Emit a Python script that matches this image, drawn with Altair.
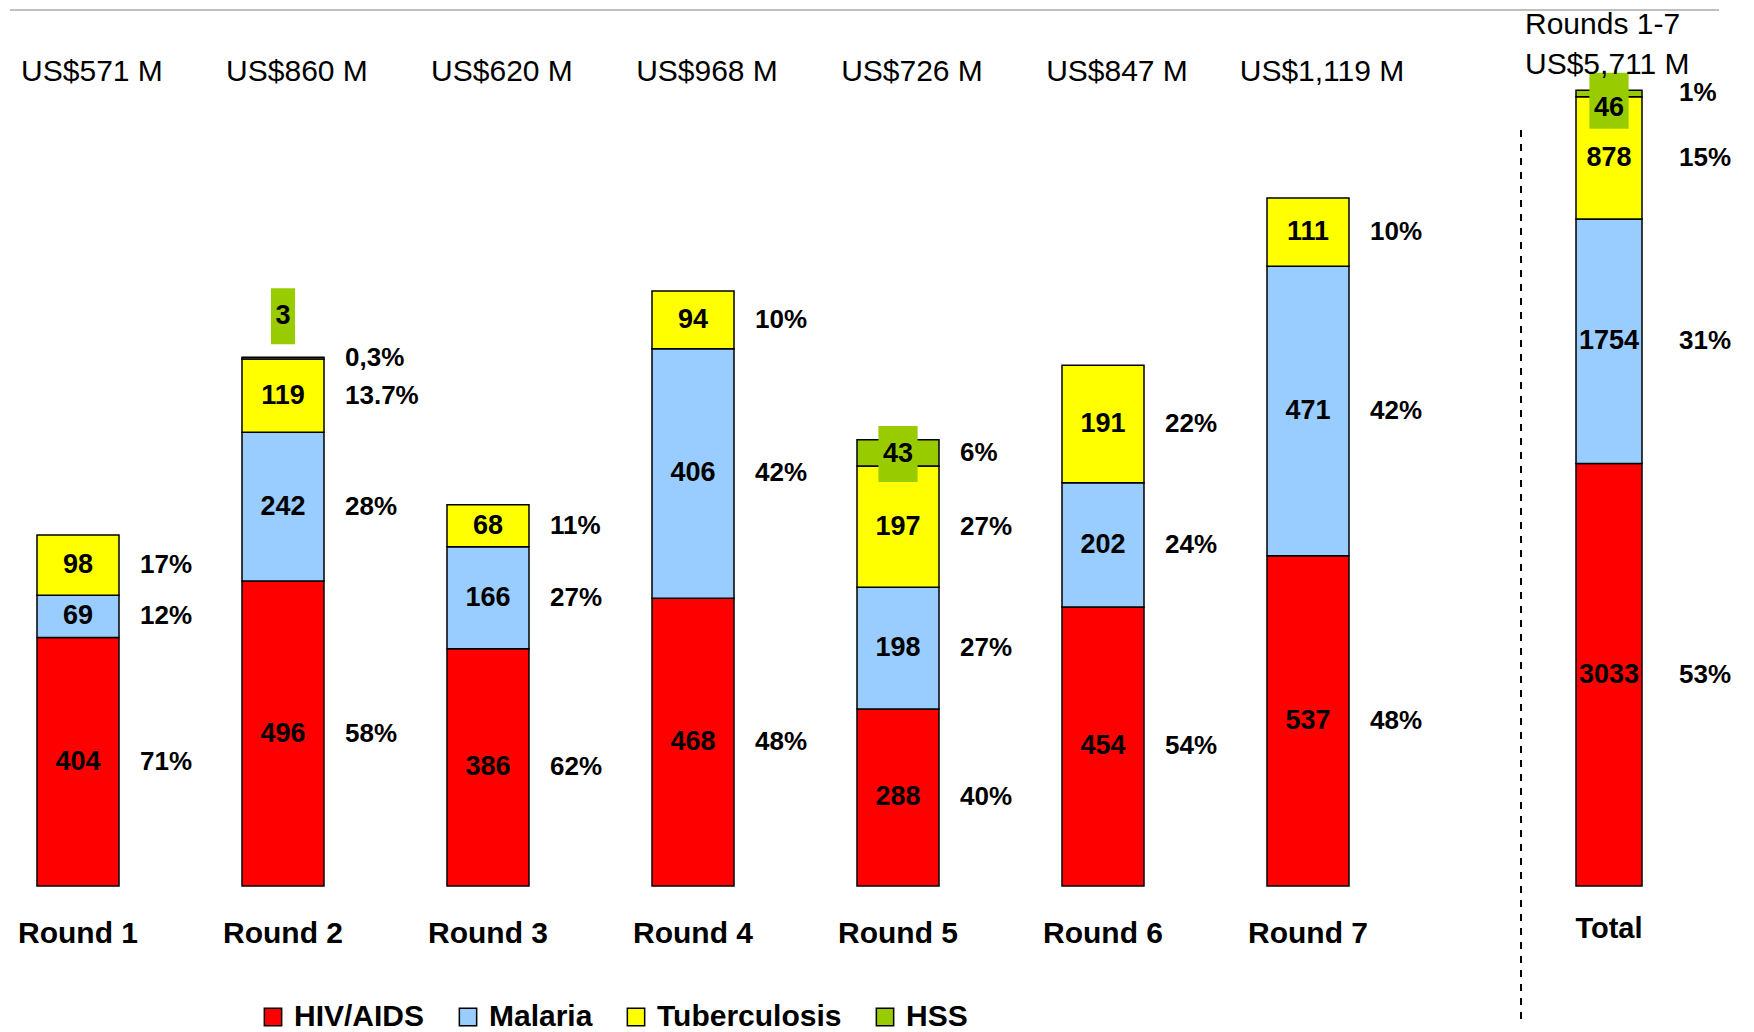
import altair as alt
import pandas as pd

FONT = "Liberation Sans"

# ---------------- data ----------------
rounds = ["Round 1", "Round 2", "Round 3", "Round 4", "Round 5", "Round 6", "Round 7"]
round_totals = ["US$571 M", "US$860 M", "US$620 M", "US$968 M", "US$726 M", "US$847 M", "US$1,119 M"]
diseases = ["HIV/AIDS", "Malaria", "Tuberculosis", "HSS"]
colors = ["#FF0000", "#99CCFF", "#FFFF00", "#99CC00"]

hiv = [404, 496, 386, 468, 288, 454, 537]
malaria = [69, 242, 166, 406, 198, 202, 471]
tb = [98, 119, 68, 94, 197, 191, 111]
hss = [0, 3, 0, 0, 43, 0, 0]

pct_hiv = ["71%", "58%", "62%", "48%", "40%", "54%", "48%"]
pct_mal = ["12%", "28%", "27%", "42%", "27%", "24%", "42%"]
pct_tb = ["17%", "13.7%", "11%", "10%", "27%", "22%", "10%"]
pct_hss = ["", "0,3%", "", "", "6%", "", ""]

total_cat = ["Total"]
total_title = ["Rounds 1-7", "US$5,711 M"]
total_values = [3033, 1754, 878, 46]
total_pct = ["53%", "31%", "15%", "1%"]


def stack_rows(cat, values, pcts):
    rows, base = [], 0
    for d, v, p in zip(diseases, values, pcts):
        if v > 0:
            rows.append(dict(cat=cat, disease=d, value=v, y0=base, y1=base + v,
                             mid=base + v / 2, pct=p))
        base += v
    return rows


left_rows = []
for i, r in enumerate(rounds):
    left_rows += stack_rows(r, [hiv[i], malaria[i], tb[i], hss[i]],
                            [pct_hiv[i], pct_mal[i], pct_tb[i], pct_hss[i]])
left_df = pd.DataFrame(left_rows)
left_top = pd.DataFrame({"cat": rounds, "label": round_totals})

right_df = pd.DataFrame(stack_rows(total_cat[0], total_values, total_pct))
right_top = pd.DataFrame({"cat": total_cat * 2, "label": total_title, "line": [0, 1]})

# ---------------- encodings ----------------
color_enc = alt.Color(
    "disease:N",
    scale=alt.Scale(domain=diseases, range=colors),
    legend=alt.Legend(
        title=None, orient="none", legendX=248, legendY=993, direction="horizontal",
        symbolType="square", symbolSize=300, symbolStrokeColor="black",
        symbolStrokeWidth=1.5, symbolOpacity=1, labelFont=FONT, labelFontSize=30,
        labelFontWeight="bold", labelColor="black", columnPadding=28, labelOffset=6,
        padding=0, labelLimit=400,
    ),
)


def x_enc(domain, p_inner, p_outer, font_size, pad):
    return alt.X(
        "cat:N", sort=domain,
        scale=alt.Scale(domain=domain, paddingInner=p_inner, paddingOuter=p_outer, round=False),
        axis=alt.Axis(title=None, labelFont=FONT, labelFontSize=font_size, labelFontWeight="bold",
                      labelColor="black", labelPadding=pad, ticks=False, domain=False,
                      labelAngle=0, labelLimit=400),
    )


def panel(df, top_df, xe, ymax, width, pct_dx, is_total):
    ys = alt.Scale(domain=[0, ymax], nice=False, zero=True)
    base = alt.Chart(df)
    bars = base.mark_bar(stroke="black", strokeWidth=1.5).encode(
        x=xe, y=alt.Y("y0:Q", scale=ys, axis=None), y2="y1:Q", color=color_enc
    )
    values = base.transform_filter(alt.datum.disease != "HSS").mark_text(
        font=FONT, fontSize=27, fontWeight="bold", color="black", baseline="middle"
    ).encode(x=xe, y=alt.Y("mid:Q", scale=ys, axis=None), text="value:Q")
    pcts = base.transform_filter(alt.datum.pct != "").mark_text(
        font=FONT, fontSize=26, fontWeight="bold", color="black", baseline="middle",
        align="left", dx=pct_dx
    ).encode(x=xe, y=alt.Y("mid:Q", scale=ys, axis=None), text="pct:N")

    layers = [bars, values, pcts]
    hss_base = base.transform_filter(alt.datum.disease == "HSS")
    if is_total:
        groups = [(hss_base, 15, "M-0.7,-0.74H0.7V1.26H-0.7Z")]
    else:
        groups = [
            (hss_base.transform_filter(alt.datum.value < 10), -42, "M-0.43,-2.5H0.43V-0.5H-0.43Z"),
            (hss_base.transform_filter(alt.datum.value >= 10), 1, "M-0.7,-0.96H0.7V1.04H-0.7Z"),
        ]
    for g, dy, path in groups:
        box = g.mark_point(shape=path, size=3136, filled=True, fill="#99CC00",
                           strokeWidth=0, opacity=1).encode(
            x=xe, y=alt.Y("mid:Q", scale=ys, axis=None))
        txt = g.mark_text(font=FONT, fontSize=27, fontWeight="bold", color="black",
                          baseline="middle", dy=dy).encode(
            x=xe, y=alt.Y("mid:Q", scale=ys, axis=None), text="value:Q")
        layers += [box, txt]

    if is_total:
        top = alt.Chart(top_df)
        t1 = top.transform_filter(alt.datum.line == 0).mark_text(
            font=FONT, fontSize=30, color="black", align="left", baseline="alphabetic", dx=-84
        ).encode(x=xe, y=alt.value(25), text="label:N")
        t2 = top.transform_filter(alt.datum.line == 1).mark_text(
            font=FONT, fontSize=30, color="black", align="left", baseline="alphabetic", dx=-84
        ).encode(x=xe, y=alt.value(65), text="label:N")
        dash = alt.Chart(top_df).transform_filter(alt.datum.line == 0).mark_rule(
            color="black", strokeWidth=2, strokeDash=[7, 7]
        ).encode(x=alt.value(0), y=alt.value(121), y2=alt.value(1010))
        layers += [t1, t2, dash]
    else:
        t = alt.Chart(top_df).mark_text(
            font=FONT, fontSize=30, color="black", align="center", baseline="alphabetic", dx=14
        ).encode(x=xe, y=alt.value(72), text="label:N")
        line = alt.Chart(top_df).transform_filter(alt.datum.cat == rounds[0]).mark_rule(
            color="#C0C0C0", strokeWidth=2
        ).encode(x=alt.value(0), x2=alt.value(1709), y=alt.value(1))
        layers += [t, line]

    return alt.layer(*layers).properties(width=width, height=877)


left = panel(left_df, left_top, x_enc(rounds, 0.6, 0.1317, 30, 32), 1426.5, 1366, 62, False)
right = panel(right_df, right_top, x_enc(total_cat, 0.0, 0.8333, 29, 28), 6294.4, 176, 70, True)

chart = alt.hconcat(left, right, spacing=145, bounds="flush").properties(
    padding=0
).configure_view(stroke="transparent").configure_text(font=FONT)

chart.save("out.html", embed_options={"renderer": "svg", "actions": False})
